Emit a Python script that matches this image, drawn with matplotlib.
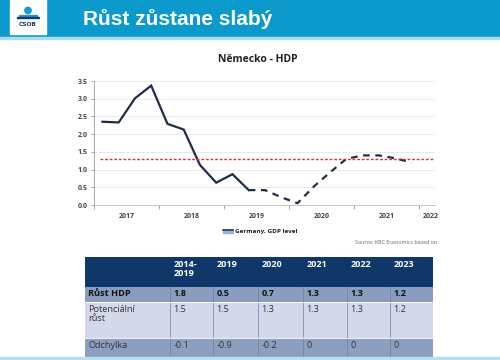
import matplotlib
matplotlib.use("Agg")
import matplotlib.pyplot as plt
from matplotlib.patches import Rectangle, Circle
import numpy as np

# ---------------- data ----------------
slide_title = "Růst zůstane slabý"
chart_title = "Německo - HDP"
start_year = 2017
gdp_actual = [2.35, 2.33, 3.01, 3.37, 2.29, 2.13, 1.13, 0.63, 0.87, 0.42]
gdp_forecast = [0.42, 0.42, 0.22, 0.05, 0.52, 0.92, 1.30, 1.40, 1.40, 1.32, 1.20]
potential_level = 1.3
year_ticks = [2017, 2018, 2019, 2020, 2021, 2022]
year_labels = ["2017", "2018", "2019", "2020", "2021", "2022"]
y_ticks = [0.0, 0.5, 1.0, 1.5, 2.0, 2.5, 3.0, 3.5]
legend_label = "Germany, GDP level"
source_text = "Source: KBC Economics based on"

table_header = ["", "2014-\n2019", "2019", "2020", "2021", "2022", "2023"]
row_labels = ["Růst HDP", "Potenciální\nrůst", "Odchylka"]
row_gdp = ["1.8", "0.5", "0.7", "1.3", "1.3", "1.2"]
row_potential = ["1.5", "1.5", "1.3", "1.3", "1.3", "1.2"]
row_gap = ["-0.1", "-0.9", "-0.2", "0", "0", "0"]

# ---------------- figure ----------------
W, H = 500, 360
fig = plt.figure(figsize=(W / 100, H / 100), dpi=100)
fig.patch.set_facecolor("white")

# overlay axes in pixel coordinates
ov = fig.add_axes([0, 0, 1, 1])
ov.set_xlim(0, W)
ov.set_ylim(H, 0)
ov.axis("off")

# header band
ov.add_patch(Rectangle((0, 0), W, 37, color="#0B9ACB", zorder=1))
ov.add_patch(Rectangle((0, 37), W, 2.2, color="#A9DDEE", zorder=1))
# logo
ov.add_patch(Rectangle((10, 0), 36, 34, color="white", zorder=2))
ov.add_patch(Circle((28, 10.5), 3.2, color="#1A9AD0", zorder=3))
ov.add_patch(Rectangle((19, 14.5), 18, 2.2, color="#1A9AD0", zorder=3))
ov.add_patch(Rectangle((17, 17.2), 22, 1.2, color="#12386E", zorder=3))
ov.text(28, 24.5, "ČSOB", ha="center", va="center", fontsize=4.2,
        fontweight="bold", color="#12386E", family="DejaVu Sans", zorder=4)
ov.text(83, 19.5, slide_title, ha="left", va="center", fontsize=15,
        fontweight="bold", color="white", family="Liberation Sans", zorder=4)

# chart title
ov.text(258, 60, chart_title, ha="center", va="center", fontsize=7.5,
        fontweight="bold", color="#222222", family="Open Sans")

# ---------------- chart ----------------
ax = fig.add_axes([94.3 / W, (H - 205) / H, (435 - 94.3) / W, (205 - 81) / H])
x_act = [start_year + 0.125 + 0.25 * i for i in range(len(gdp_actual))]
x_fc = [x_act[-1] + 0.25 * i for i in range(len(gdp_forecast))]
line_col = "#1F2D4A"
ax.plot(x_act, gdp_actual, color=line_col, lw=1.6, solid_joinstyle="miter")
ax.plot(x_fc, gdp_forecast, color=line_col, lw=1.6, dashes=(3, 2.5))
ax.hlines(potential_level, start_year + 0.08, 2022.24, colors="#E0302A",
          linestyles=(0, (2.0, 1.3)), lw=1.0)

ax.set_xlim(start_year, 2022.24)
ax.set_ylim(0, 3.5)
ax.set_yticks(y_ticks)
ax.set_yticklabels([f"{v:.1f}" for v in y_ticks])
ax.yaxis.grid(True, color="#E6E6E6", lw=0.6)
ax.set_axisbelow(True)
ax.set_xticks(year_ticks)
ax.set_xticklabels([""] * len(year_ticks))
lab_pos = [y + 0.5 for y in year_ticks[:-1]] + [year_ticks[-1] + 0.17]
for xp, lab in zip(lab_pos, year_labels):
    ax.text(xp, -0.22, lab, ha="center", va="top", fontsize=5,
            fontweight="bold", color="#444444", family="Open Sans",
            transform=ax.transData, clip_on=False)
for s in ["top", "right"]:
    ax.spines[s].set_visible(False)
ax.spines["left"].set_color("#999999")
ax.spines["bottom"].set_color("#BBBBBB")
ax.spines["left"].set_linewidth(0.6)
ax.spines["bottom"].set_linewidth(0.6)
ax.tick_params(axis="y", length=2.5, width=0.6, color="#999999", labelsize=5,
               labelcolor="#444444", pad=2)
ax.tick_params(axis="x", length=3, width=0.6, color="#999999", direction="out")
for t in ax.get_yticklabels():
    t.set_fontweight("bold")
    t.set_family("Open Sans")

# legend
ov.add_patch(Rectangle((223, 230.5), 10, 2.6, color="#8FB4DA", zorder=3))
ov.plot([223, 233], [230.2, 230.2], color=line_col, lw=1.2, zorder=4)
ov.text(235, 231, legend_label, ha="left", va="center", fontsize=4.6,
        fontweight="bold", color="#222222", family="Open Sans")
ov.text(437, 243, source_text, ha="right", va="center", fontsize=3.9,
        color="#666666", family="Open Sans")

# ---------------- table ----------------
col_x = [85, 170, 213, 258, 303, 347, 390, 433]
row_y = [257, 287, 302, 338, 357]
row_colors = ["#0F3769", "#8A9DBE", "#D3D9EA", "#8C9FC0"]
rows = [table_header,
        [row_labels[0]] + row_gdp,
        [row_labels[1]] + row_potential,
        [row_labels[2]] + row_gap]
for r in range(4):
    y0, y1 = row_y[r], row_y[r + 1]
    ov.add_patch(Rectangle((col_x[0], y0), col_x[-1] - col_x[0], y1 - y0,
                           facecolor=row_colors[r], edgecolor="none", zorder=2))
    for c in range(7):
        txt = rows[r][c]
        if r == 0:
            color, weight = "white", "bold"
        elif r == 1:
            color, weight = "#111111", "bold"
        else:
            color, weight = "#333333", "normal"
        ytxt = y0 + (3 if r != 1 else 2)
        ov.text(col_x[c] + 3.5, ytxt, txt, ha="left", va="top", fontsize=6.6,
                fontweight=weight, color=color, family="Open Sans",
                linespacing=1.05, zorder=4)
# vertical cell separators in body rows
for c in range(1, 7):
    ov.plot([col_x[c], col_x[c]], [row_y[1], row_y[-1]], color="#6A7FA6",
            lw=0.5, zorder=3)
for r in (2, 3):
    ov.plot([col_x[0], col_x[-1]], [row_y[r], row_y[r]], color="#FFFFFF",
            lw=0.6, zorder=3)
ov.add_patch(Rectangle((0, 357), W, 3, color="#B4E0EE", zorder=3))

fig.savefig("out.png", dpi=100)
